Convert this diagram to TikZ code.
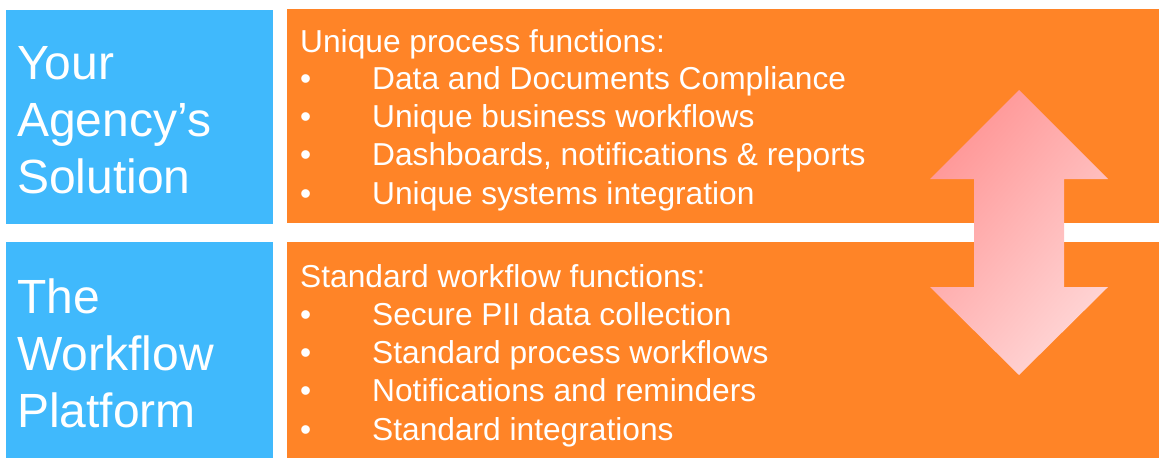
\documentclass[tikz,border=0pt]{standalone}
\usepackage{fontspec}
\setmainfont{Liberation Sans}
\definecolor{skyblue}{HTML}{40B9FC}
\definecolor{panelorange}{HTML}{FF8427}
\definecolor{arrowdark}{HTML}{FF9696}
\definecolor{arrowlight}{HTML}{FFD6D6}
\begin{document}
\begin{tikzpicture}[x=1pt,y=-1pt]
\tikzstyle{box}=[inner sep=0pt, anchor=north west]
\tikzstyle{every node}=[inner sep=0pt, text=white, anchor=base west]
\tikzstyle{title}=[font=\fontsize{48}{57}\selectfont]
\tikzstyle{item}=[font=\fontsize{31.7}{38}\selectfont]
\useasboundingbox (0,0) rectangle (1159,458);
\node (solution) [box, fill=skyblue, minimum width=267, minimum height=214] at (6,10) {};
\node (platform) [box, fill=skyblue, minimum width=267, minimum height=216] at (6,242) {};
\node (unique) [box, fill=panelorange, minimum width=872, minimum height=214] at (287,9) {};
\node (standard) [box, fill=panelorange, minimum width=872, minimum height=216] at (287,242) {};
\shade[top color=arrowdark, bottom color=arrowlight, shading angle=50]
  (1019,90) -- (1108,179) -- (1064,179) -- (1064,287) -- (1108,287) -- (1019,375)
  -- (930,287) -- (974,287) -- (974,179) -- (930,179) -- cycle;
\foreach \txt [count=\i] in {Your, Agency’s, Solution}
  \node (sol\i) [title] at (17,22+57*\i) {\txt};
\foreach \txt [count=\i] in {The, Workflow, Platform}
  \node (plat\i) [title] at (17,256+57*\i) {\txt};
\node (uhead) [item] at (300,52) {Unique process functions:};
\foreach \txt [count=\i] in {Data and Documents Compliance, Unique business workflows,
    {Dashboards, notifications \& reports}, Unique systems integration} {
  \node (ubul\i) [item] at (300,51+38.3*\i) {•};
  \node (uitem\i) [item] at (372,51+38.3*\i) {\txt};
}
\node (shead) [item] at (300,287) {Standard workflow functions:};
\foreach \txt [count=\i] in {Secure PII data collection, Standard process workflows,
    Notifications and reminders, Standard integrations} {
  \node (sbul\i) [item] at (300,287+38.3*\i) {•};
  \node (sitem\i) [item] at (372,287+38.3*\i) {\txt};
}
\end{tikzpicture}
\end{document}
